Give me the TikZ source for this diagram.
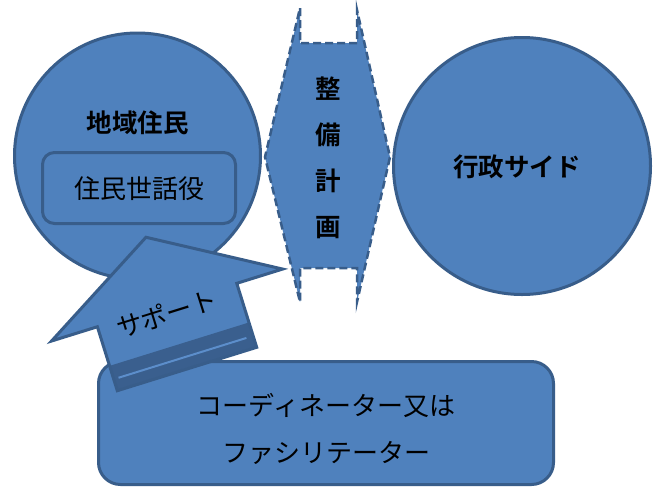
\documentclass[tikz,border=0pt]{standalone}
\usepackage{fontspec}
\newfontfamily\jp{Noto Sans CJK JP}[BoldFont={Noto Sans CJK JP Bold}]
\definecolor{blueF}{HTML}{4F81BD}
\definecolor{blueD}{HTML}{385D8A}
\definecolor{blueBand}{HTML}{3A5F8E}
\definecolor{blueLight}{HTML}{5C8ECB}
\begin{document}
\begin{tikzpicture}[x=1pt,y=-1pt,
  txt/.style={font=\jp\fontsize{26}{47}\selectfont, text=black, inner sep=0pt, align=center},
  btxt/.style={font=\jp\bfseries\fontsize{25.5}{46}\selectfont, text=black, inner sep=0pt, align=center},
  blob/.style={fill=blueF, draw=blueD, line width=3pt},
  hexa/.style={fill=blueF, draw=blueD, line width=2.5pt, dash pattern=on 8pt off 4pt}]
\useasboundingbox (0,0) rectangle (656,488);
\fill[white] (0,0) rectangle (656,488);

% left circle
\node[blob, circle, minimum size=246pt, inner sep=0pt] (resid) at (137.5,156) {};
\node[btxt] (residT) at (137.5,123) {地域住民};
\node[blob, rounded corners=12pt, minimum width=193pt, minimum height=71pt, inner sep=0pt] (sewa) at (139,188) {};
\node[txt] (sewaT) at (139,189) {住民世話役};

% right circle
\node[blob, circle, minimum size=257pt, inner sep=0pt] (gyo) at (522,166) {};
\node[btxt] (gyoT) at (517,167) {行政サイド};

% plan shape
\draw[hexa] (300,8) -- (300,43) -- (357,43) -- (357,10) -- (390,157) -- (357,302)
  -- (357,268) -- (300,268) -- (300,302) -- (265,157) -- cycle;
\node[btxt] (plan) at (328,157.5) {整\\備\\計\\画};

% bottom box
\node[blob, rounded corners=22pt, minimum width=455pt, minimum height=123pt, inner sep=0pt] (coord) at (326,423) {};
\node[txt] (coordT) at (326,429) {コーディネーター又は\\ファシリテーター};

% support arrow
\begin{scope}[shift={(187,369)}, rotate=17.3]
  \fill[blueF] (0,-138) -- (121,-67) -- (73,-67) -- (73,0) -- (-73,0) -- (-73,-67) -- (-121,-67) -- cycle;
  \fill[blueBand] (-73,0) -- (73,0) -- (73,-26) -- (-73,-26) -- cycle;
  \draw[blueLight, line width=2pt] (-68,-12) -- (66,-12);
  \draw[blueD, line width=3pt, line join=miter] (0,-138) -- (121,-67) -- (73,-67) -- (73,0) -- (-73,0) -- (-73,-67) -- (-121,-67) -- cycle;
  \node[txt, rotate=17.3] (sup) at (-3,-59) {サポート};
\end{scope}
\end{tikzpicture}
\end{document}
